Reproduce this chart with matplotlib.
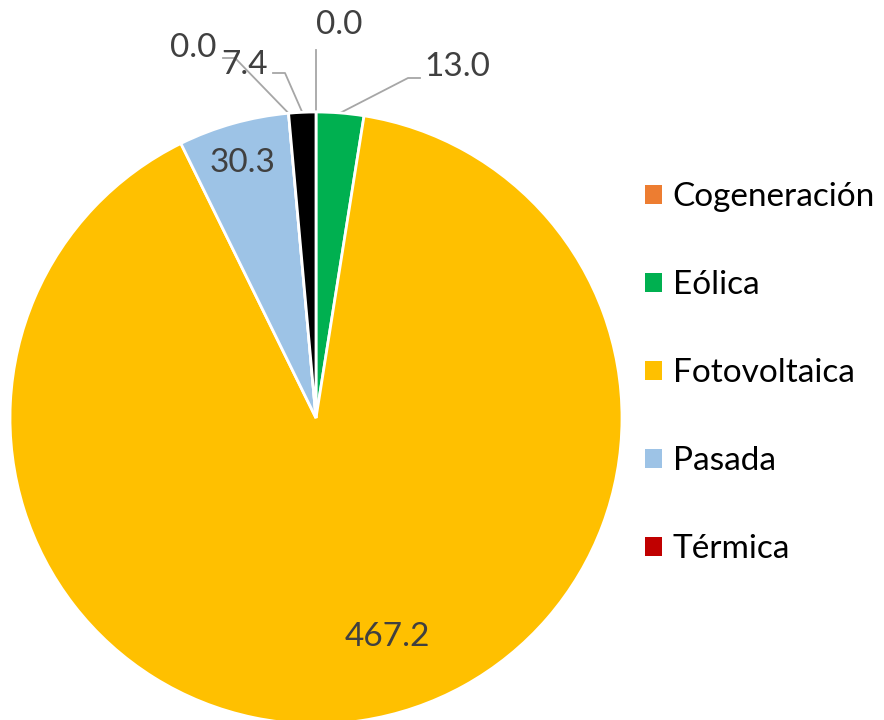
import matplotlib
matplotlib.use("Agg")
import matplotlib.pyplot as plt
import numpy as np

categories = ["Cogeneración", "Eólica", "Fotovoltaica", "Pasada", "Térmica", "Otra"]
values = [0.0, 13.0, 467.2, 30.3, 0.0, 7.4]
value_labels = ["0.0", "13.0", "467.2", "30.3", "0.0", "7.4"]
colors = ["#ED7D31", "#00B050", "#FFC000", "#9DC3E6", "#C00000", "#000000"]
legend_count = 5

plt.rcParams['font.family'] = ['Lato', 'DejaVu Sans']

W, H = 884, 720
fig = plt.figure(figsize=(W / 100, H / 100), dpi=100)
cx, cy, R = 316, 418, 306
ax = fig.add_axes([(cx - R) / W, (H - cy - R) / H, 2 * R / W, 2 * R / H])

wedges, _ = ax.pie(values, colors=colors, startangle=90, counterclock=False,
                   wedgeprops=dict(edgecolor="white", linewidth=2.0),
                   radius=1.0)
ax.set_xlim(-1, 1)
ax.set_ylim(-1, 1)
ax.set_aspect("equal")
ax.axis("off")


def to_data(px, py):
    return (px - cx) / R, (cy - py) / R


txt_color = "#404040"
line_color = "#A6A6A6"
fs = 24

# label layout: (label center px, elbow px or None, line-end px or None)
layout = [
    ((339, 25), None, (316, 50)),
    ((457, 67), (408, 78), (420, 78)),
    ((387, 637), None, None),
    ((243, 163), None, None),
    ((193, 48), (235, 58), (223, 58)),
    ((245, 65), (285, 73), (273, 73)),
]

for w, lab, (pos, elbow, lend) in zip(wedges, value_labels, layout):
    mid = np.deg2rad((w.theta1 + w.theta2) / 2)
    tx, ty = to_data(*pos)
    ax.text(tx, ty, lab, ha="center", va="center", fontsize=fs, color=txt_color,
            clip_on=False)
    if lend is not None:
        px, py = np.cos(mid) * 1.0, np.sin(mid) * 1.0
        pts = [(px, py)]
        if elbow is not None:
            pts.append(to_data(*elbow))
        pts.append(to_data(*lend))
        xs, ys = zip(*pts)
        ax.plot(xs, ys, color=line_color, lw=1.3, clip_on=False, zorder=0)

leg = fig.legend(wedges[:legend_count], categories[:legend_count],
                 loc="upper left", bbox_to_anchor=(645 / W, 1 - 182 / H),
                 frameon=False, fontsize=fs, handlelength=0.5, handleheight=0.5,
                 handletextpad=0.33, labelspacing=1.74, borderpad=0, borderaxespad=0)
for h in leg.legend_handles:
    h.set_edgecolor("none")

fig.savefig("out.png", dpi=100)
